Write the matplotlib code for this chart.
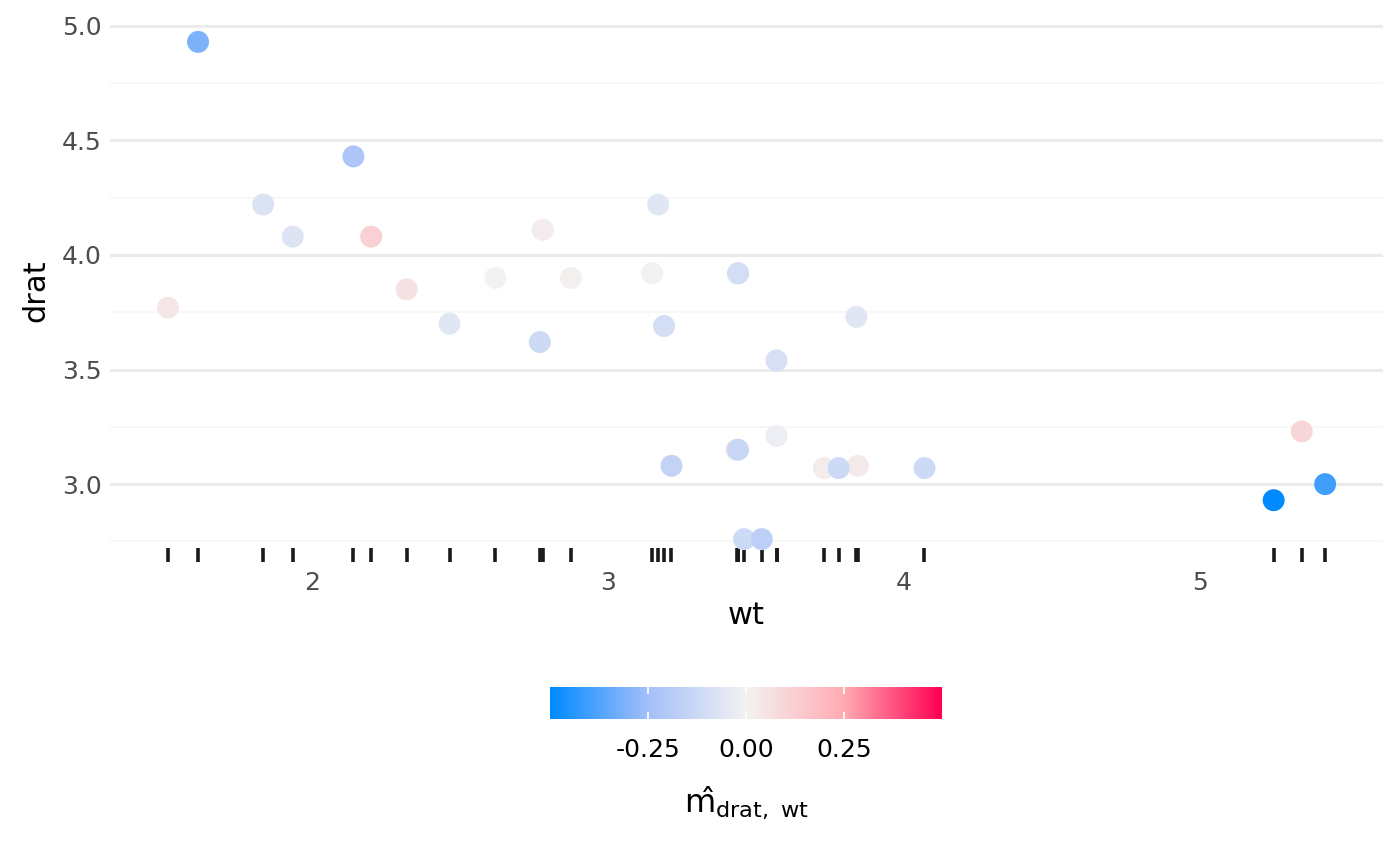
import numpy as np
import matplotlib
matplotlib.use("Agg")
import matplotlib.pyplot as plt
from matplotlib.colors import LinearSegmentedColormap, Normalize
from matplotlib.ticker import MultipleLocator

# mtcars: weight vs rear axle ratio, coloured by estimated interaction effect
cars = ["Mazda RX4", "Mazda RX4 Wag", "Datsun 710", "Hornet 4 Drive", "Hornet Sportabout",
        "Valiant", "Duster 360", "Merc 240D", "Merc 230", "Merc 280", "Merc 280C",
        "Merc 450SE", "Merc 450SL", "Merc 450SLC", "Cadillac Fleetwood",
        "Lincoln Continental", "Chrysler Imperial", "Fiat 128", "Honda Civic",
        "Toyota Corolla", "Toyota Corona", "Dodge Challenger", "AMC Javelin",
        "Camaro Z28", "Pontiac Firebird", "Fiat X1-9", "Porsche 914-2", "Lotus Europa",
        "Ford Pantera L", "Ferrari Dino", "Maserati Bora", "Volvo 142E"]
wt = [2.620, 2.875, 2.320, 3.215, 3.440, 3.460, 3.570, 3.190, 3.150, 3.440, 3.440,
      4.070, 3.730, 3.780, 5.250, 5.424, 5.345, 2.200, 1.615, 1.835, 2.465, 3.520,
      3.435, 3.840, 3.845, 1.935, 2.140, 1.513, 3.170, 2.770, 3.570, 2.780]
drat = [3.90, 3.90, 3.85, 3.08, 3.15, 2.76, 3.21, 3.69, 3.92, 3.92, 3.92,
        3.07, 3.07, 3.07, 2.93, 3.00, 3.23, 4.08, 4.93, 4.22, 3.70, 2.76,
        3.15, 3.73, 3.08, 4.08, 4.43, 3.77, 4.22, 3.62, 3.54, 4.11]
# estimated from point colours
m_hat = [0.00, 0.01, 0.06, -0.15, -0.13, -0.12, -0.02, -0.10, 0.00, -0.10, -0.10,
         -0.12, 0.02, -0.12, -0.50, -0.40, 0.10, 0.12, -0.31, -0.08, -0.06, -0.17,
         0.05, -0.06, 0.03, -0.07, -0.22, 0.04, -0.06, -0.12, -0.09, 0.02]

cbar_ticks = [-0.25, 0.0, 0.25]

cmap = LinearSegmentedColormap.from_list(
    "shapish",
    [(0.0, "#008AFF"), (0.25, "#A4BFF9"), (0.5, "#F3F2F2"),
     (0.75, "#FFABB2"), (1.0, "#FF0052")])
norm = Normalize(vmin=-0.5, vmax=0.5)

plt.rcParams['font.family'] = ['DejaVu Sans']

fig = plt.figure(figsize=(14, 8.66), dpi=100)
ax = fig.add_axes([110 / 1400, 1 - 564 / 866, 1273 / 1400, 547 / 866])

# draw the large-|m| points last so they sit on top
order = np.argsort(np.abs(m_hat))
x = np.array(wt)[order]
y = np.array(drat)[order]
c = np.array(m_hat)[order]
ax.scatter(x, y, c=c, cmap=cmap, norm=norm, s=250, linewidths=0, zorder=3)

# rug along the bottom
for xv in wt:
    ax.plot([xv, xv], [0.003, 0.03], color="#1a1a1a", lw=2.6,
            transform=ax.get_xaxis_transform(), solid_capstyle="butt", zorder=2)

xr = max(wt) - min(wt)
yr = max(drat) - min(drat)
ax.set_xlim(min(wt) - 0.05 * xr, max(wt) + 0.05 * xr)
ax.set_ylim(min(drat) - 0.05 * yr, max(drat) + 0.05 * yr)

ax.xaxis.set_major_locator(MultipleLocator(1))
ax.yaxis.set_major_locator(MultipleLocator(0.5))
ax.yaxis.set_minor_locator(MultipleLocator(0.25))
ax.yaxis.set_major_formatter(matplotlib.ticker.FormatStrFormatter("%.1f"))
ax.grid(axis="y", which="major", color="#EBEBEB", lw=2.2, zorder=0)
ax.grid(axis="y", which="minor", color="#F5F5F5", lw=1.1, zorder=0)
ax.set_axisbelow(True)
for s in ax.spines.values():
    s.set_visible(False)
ax.tick_params(axis="both", which="both", length=0, labelsize=18, labelcolor="#4D4D4D")
ax.tick_params(axis="x", pad=5)
ax.tick_params(axis="y", pad=6)
ax.set_xlabel("wt", fontsize=22, labelpad=4)
ax.set_ylabel("drat", fontsize=22, labelpad=8)

# colour bar
cax = fig.add_axes([550 / 1400, 1 - 719 / 866, 392 / 1400, 32 / 866])
sm = matplotlib.cm.ScalarMappable(norm=norm, cmap=cmap)
cb = fig.colorbar(sm, cax=cax, orientation="horizontal", ticks=cbar_ticks)
cb.outline.set_visible(False)
cb.ax.set_xticklabels(["-0.25", "0.00", "0.25"])
cb.ax.tick_params(axis="x", length=5, width=1.2, color="white", direction="in",
                  labelsize=18, labelcolor="black", pad=14, top=True)
cb.set_label("m\u0302" + r"$_{\mathrm{drat,\ wt}}$", fontsize=23, labelpad=16)

fig.savefig("out.png", dpi=100, facecolor="white")
